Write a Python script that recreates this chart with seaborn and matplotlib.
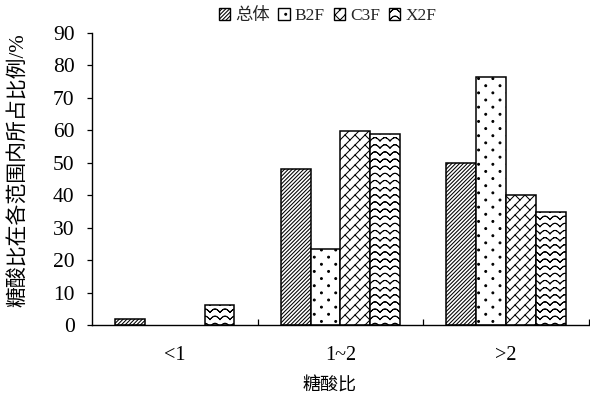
import warnings

import numpy as np
import pandas as pd
import matplotlib
matplotlib.use("Agg")
import matplotlib.pyplot as plt
import matplotlib.hatch as mhatch
from matplotlib.path import Path
from matplotlib.patches import Patch
from matplotlib.ticker import FixedLocator
import seaborn as sns

warnings.filterwarnings("ignore")

# ---- data -------------------------------------------------------------
ranges = ["<1", "1~2", ">2"]
groups = ["总体", "B2F", "C3F", "X2F"]
total = [1.8, 48.0, 50.0]
b2f = [0.0, 23.4, 76.5]
c3f = [0.0, 59.8, 40.0]
x2f = [6.2, 58.8, 35.0]
y_ticks = [0, 10, 20, 30, 40, 50, 60, 70, 80, 90]


# ---- custom fill patterns (unit tile, repeated over each bar) ---------
def _segments(starts, ends):
    n = len(starts)
    verts = np.empty((2 * n, 2))
    verts[0::2] = starts
    verts[1::2] = ends
    codes = np.empty(2 * n, Path.code_type)
    codes[0::2] = Path.MOVETO
    codes[1::2] = Path.LINETO
    return verts, codes


class _PrecomputedHatch(mhatch.HatchPatternBase):
    key = "?"

    def __init__(self, hatch, density):
        if self.key in hatch:
            self.verts, self.codes = self.build()
            self.num_vertices = len(self.verts)
        else:
            self.num_vertices = 0

    def set_vertices_and_codes(self, vertices, codes):
        vertices[:] = self.verts
        codes[:] = self.codes


class DenseDiagonal(_PrecomputedHatch):
    key = "z"

    @staticmethod
    def build():
        n = 26
        c = np.arange(-n, n + 1) / n
        starts = np.column_stack([np.full_like(c, -0.1), -0.1 + c])
        ends = np.column_stack([np.full_like(c, 1.1), 1.1 + c])
        return _segments(starts, ends)


class StaggeredDots(_PrecomputedHatch):
    key = "d"

    @staticmethod
    def build():
        rows, cols, r = 14, 7, 0.0095
        circle = Path.unit_circle()
        cv, cc = circle.vertices * r, circle.codes
        vs, cs = [], []
        for i in range(rows + 1):
            y = i / rows
            shift = 0.5 / cols if i % 2 else 0.0
            for j in range(-1, cols + 1):
                x = j / cols + shift
                vs.append(cv + [x, y])
                cs.append(cc)
        return np.concatenate(vs), np.concatenate(cs)


class WaveLines(_PrecomputedHatch):
    key = "w"

    @staticmethod
    def build():
        rows, periods, steps, amp = 14, 10, 8, 0.017
        xs = np.linspace(0, 1, periods * steps + 1)
        starts, ends = [], []
        for i in range(rows):
            y0 = (i + 0.5) / rows
            ys = y0 + amp * np.abs(np.sin(np.pi * periods * xs)) * 2 - amp
            pts = np.column_stack([xs, ys])
            starts.append(pts[:-1])
            ends.append(pts[1:])
        return _segments(np.concatenate(starts), np.concatenate(ends))


class Bricks(_PrecomputedHatch):
    key = "b"

    @staticmethod
    def build():
        n = 10
        d = 1.0 / n
        ks = np.arange(-n - 1, n + 2)
        c = ks * d
        starts = [np.column_stack([np.full_like(c, -0.2), -0.2 + c])]
        ends = [np.column_stack([np.full_like(c, 1.2), 1.2 + c])]
        t = np.arange(-n - 2, n + 3) * d
        for k in ks:
            p0 = np.column_stack([t, t + k * d])
            p1 = p0 + [-d / 2, d / 2]
            keep = (p0[:, 0] > -0.3) & (p0[:, 0] < 1.3) & (p0[:, 1] > -0.3) & (p0[:, 1] < 1.3)
            starts.append(p0[keep])
            ends.append(p1[keep])
        return _segments(np.concatenate(starts), np.concatenate(ends))


mhatch._hatch_types.extend([DenseDiagonal, StaggeredDots, WaveLines, Bricks])
hatches = ["z", "d", "b", "w"]

# ---- style ------------------------------------------------------------
sns.set_theme(style="ticks")
plt.rcParams["font.family"] = ["Liberation Serif", "Noto Sans CJK SC"]
plt.rcParams["hatch.linewidth"] = 0.75
plt.rcParams["hatch.color"] = "black"
plt.rcParams["axes.unicode_minus"] = False

df = pd.DataFrame({
    "range": np.tile(ranges, len(groups)),
    "group": np.repeat(groups, len(ranges)),
    "ratio": np.concatenate([total, b2f, c3f, x2f]),
})

fig = plt.figure(figsize=(5.9, 3.98), dpi=100)
ax = fig.add_axes([0.156, 0.183, 0.842, 0.734])

sns.barplot(
    data=df, x="range", y="ratio", hue="group",
    order=ranges, hue_order=groups,
    palette=["white"] * 4, saturation=1,
    edgecolor="black", linewidth=1.1,
    width=0.72, gap=0, legend=False, ax=ax,
)

for container, h in zip(ax.containers, hatches):
    for bar in container:
        bar.set_hatch(h)
        bar.set_edgecolor("black")
        if bar.get_height() == 0:
            bar.set_visible(False)

ax.set_xlim(-0.5, 2.5)
ax.set_ylim(0, 90)
ax.set_yticks(y_ticks)
ax.set_yticklabels([str(v) for v in y_ticks])
ax.tick_params(axis="y", direction="out", length=3.6, width=0.9, labelsize=15.5,
               pad=9, colors="black")
ax.tick_params(axis="x", which="major", length=0, labelsize=14.5, pad=15, colors="black")
ax.xaxis.set_minor_locator(FixedLocator([0.5, 1.5, 2.5]))
ax.tick_params(axis="x", which="minor", direction="in", length=4, width=0.9,
               bottom=True, colors="black")

for side in ("top", "right"):
    ax.spines[side].set_visible(False)
for side in ("left", "bottom"):
    ax.spines[side].set_color("black")
    ax.spines[side].set_linewidth(1.0)

ax.set_xlabel("糖酸比", fontsize=13, color="black")
ax.xaxis.set_label_coords(0.478, -0.178)
ax.set_ylabel("糖酸比在各范围内所占比例/%", fontsize=15, color="black")
ax.yaxis.set_label_coords(-0.127, 0.53)

handles = [Patch(facecolor="white", edgecolor="black", linewidth=1.0, hatch=h, label=g)
           for g, h in zip(groups, hatches)]
fig.legend(handles=handles, loc="upper center", bbox_to_anchor=(0.555, 1.01),
           ncol=4, frameon=False, fontsize=12.5, handlelength=0.65, handleheight=0.65,
           handletextpad=0.3, columnspacing=0.5, borderpad=0.2)

fig.savefig("out.png", dpi=100, facecolor="white")
